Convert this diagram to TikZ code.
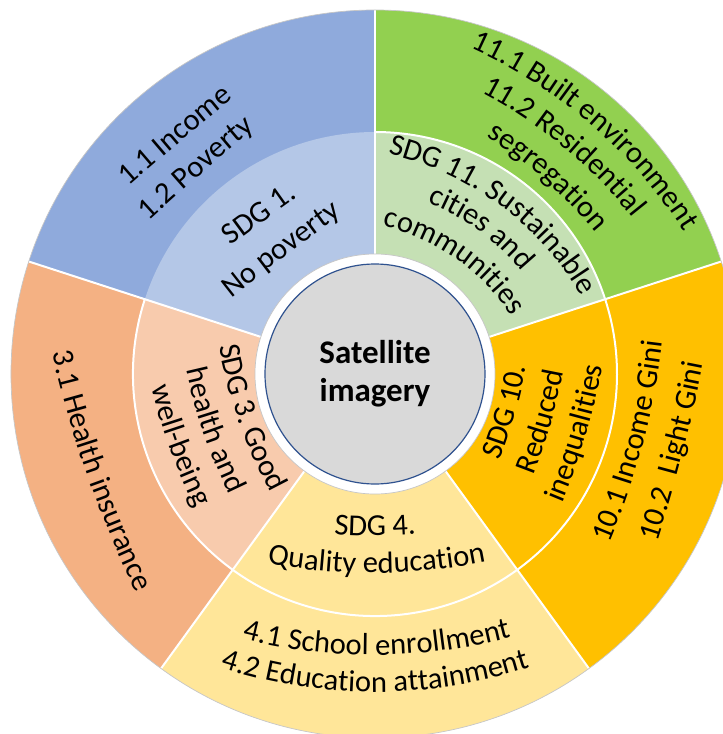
\documentclass[tikz,border=0pt]{standalone}
\usepackage{fontspec}
\setmainfont{Carlito}
\usetikzlibrary{decorations.text}

\definecolor{blueout}{HTML}{8FAADC}
\definecolor{bluein}{HTML}{B4C7E7}
\definecolor{grnout}{HTML}{92D050}
\definecolor{grnin}{HTML}{C5E0B4}
\definecolor{ornout}{HTML}{FFC000}
\definecolor{ornin}{HTML}{FFC000}
\definecolor{salout}{HTML}{F4B183}
\definecolor{salin}{HTML}{F8CBAD}
\definecolor{yelout}{HTML}{FFE699}
\definecolor{yelin}{HTML}{FFE699}
\definecolor{hubgrey}{HTML}{D9D9D9}
\definecolor{hubline}{HTML}{2F528F}
\newcommand{\sdgfont}{\fontsize{30.5}{36}\selectfont}

\begin{document}
\begin{tikzpicture}[x=1pt, y=1pt,
	sepline/.style={white, line width=2pt},
	rim/.style={draw=gray!45, line width=0.7pt},
	hub/.style={circle, minimum size=220, inner sep=0pt, fill=hubgrey, draw=hubline, line width=1.2pt, align=center, font=\bfseries\fontsize{33}{38}\selectfont},
	cwtext/.style n args={4}{shift={(#1:#2-#3)}, decorate, decoration={text along path, text align=center, text={|\sdgfont|#4}},
		insert path={({#1+deg(230/#3)}:#3) arc[start angle={#1+deg(230/#3)}, end angle={#1-deg(230/#3)}, radius=#3]}},
	ccwtext/.style n args={4}{shift={(#1:#2-#3)}, decorate, decoration={text along path, text align=center, text={|\sdgfont|#4}},
		insert path={({#1-deg(230/#3)}:#3) arc[start angle={#1-deg(230/#3)}, end angle={#1+deg(230/#3)}, radius=#3]}}]
	\useasboundingbox (-375,-360) rectangle (348,374);
	\clip (-375,-360) rectangle (348,374);
	% rings
	\foreach \a/\co/\ci in {90/blueout/bluein, 162/salout/salin, 234/yelout/yelin, 306/ornout/ornin, 378/grnout/grnin}{
		\fill[\co] (\a:120) arc[start angle=\a, end angle=\a+72, radius=120] -- (\a+72:364) arc[start angle=\a+72, end angle=\a, radius=364] -- cycle;
		\fill[\ci] (\a:120) arc[start angle=\a, end angle=\a+72, radius=120] -- (\a+72:242) arc[start angle=\a+72, end angle=\a, radius=242] -- cycle;
	}
	\foreach \a in {18,90,162,234,306}
		\draw[sepline] (\a:120) -- (\a:364);
	\draw[sepline] (162:242) arc[start angle=162, end angle=450, radius=242];
	\draw[rim] (0,0) circle[radius=364];
	\draw[rim, fill=white] (0,0) circle[radius=120];
	\node[hub] (sat) at (0,0) {Satellite\\imagery};
	% SDG 1
	\path[cwtext={130}{303}{3000}{1.1 Income}];
	\path[cwtext={131}{265}{3000}{1.2 Poverty}];
	\path[cwtext={126}{189}{3000}{SDG 1.}];
	\path[cwtext={127}{148}{3000}{No poverty}];
	% SDG 11
	\path[cwtext={49.2}{330}{490}{11.1 Built environment}];
	\path[cwtext={50.3}{295}{470}{11.2 Residential}];
	\path[cwtext={48.7}{258}{430}{segregation}];
	\path[cwtext={53.6}{210}{300}{SDG 11. Sustainable}];
	\path[cwtext={54}{177}{230}{cities and}];
	\path[cwtext={55}{141}{210}{communities}];
	% SDG 10
	\path[ccwtext={-16}{146}{450}{SDG 10.}];
	\path[ccwtext={-16}{183}{550}{Reduced}];
	\path[ccwtext={-16.4}{220}{650}{inequalities}];
	\path[ccwtext={-14.8}{277}{750}{10.1 Income Gini}];
	\path[ccwtext={-14.5}{318}{1500}{10.2{\kern14pt}Light Gini}];
	% SDG 3
	\path[ccwtext={199.3}{144}{500}{SDG 3. Good}];
	\path[ccwtext={199.2}{181}{550}{health and}];
	\path[ccwtext={200}{218}{650}{well-being}];
	\path[ccwtext={199.4}{305}{1100}{3.1 Health insurance}];
	% SDG 4
	\path[ccwtext={270}{162}{500}{SDG 4.}];
	\path[ccwtext={270.5}{199}{580}{Quality education}];
	\path[ccwtext={270.4}{281}{540}{4.1 School enrollment}];
	\path[ccwtext={270}{318}{500}{4.2 Education attainment}];
\end{tikzpicture}
\end{document}
